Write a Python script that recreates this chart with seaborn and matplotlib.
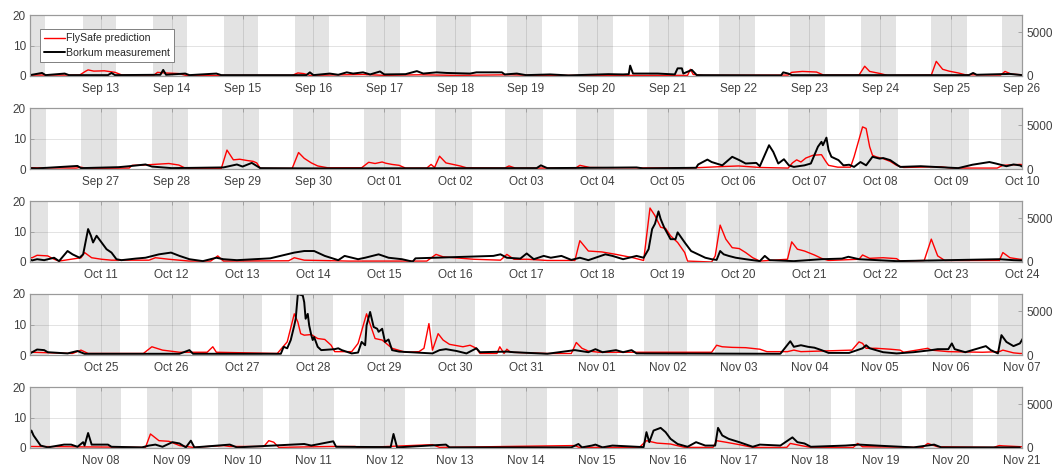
import numpy as np
import pandas as pd
import matplotlib
matplotlib.use('Agg')
import matplotlib.pyplot as plt
import matplotlib.dates as mdates
import seaborn as sns

sns.set_style('white')
plt.rcParams['font.family'] = ['Liberation Sans', 'DejaVu Sans']

start = pd.Timestamp('2016-09-12')
days_per_row = 14
n_rows = 5
lat, lon = 53.59, 6.67  # Borkum

# FlySafe prediction (left axis) : (days since Sep 12 00:00 UTC, value)
flysafe_1 = [(0.00, 0.3), (0.70, 0.3), (0.78, 1.5), (0.82, 2.0), (0.90, 1.6), (1.05, 1.7), (1.20, 1.2), (1.30, 0.3),
             (1.75, 0.3), (1.80, 1.2), (1.90, 1.0), (2.10, 0.8), (2.20, 0.2), (3.70, 0.2), (3.78, 1.0), (3.86, 0.8),
             (3.95, 0.2), (4.70, 0.5), (5.00, 0.2), (5.50, 0.4), (6.00, 0.2), (6.80, 0.4), (7.10, 0.2), (9.28, 0.2),
             (9.32, 2.2), (9.36, 0.5), (9.50, 0.2), (10.70, 0.3), (10.75, 1.2), (10.90, 1.5), (11.10, 1.3), (11.20, 0.3),
             (11.70, 0.3), (11.78, 3.2), (11.85, 1.5), (12.00, 0.8), (12.10, 0.2), (12.72, 0.3), (12.79, 4.8), (12.88, 2.2),
             (12.97, 1.6), (13.10, 1.0), (13.20, 0.4), (13.70, 0.3), (13.76, 1.5), (13.85, 0.6)]
flysafe_2 = [(14.00, 0.4), (14.65, 0.3), (14.72, 0.6), (14.80, 0.2), (15.40, 0.3), (15.44, 1.2), (15.60, 1.3), (15.75, 1.5),
             (15.96, 1.8), (16.10, 1.3), (16.20, 0.2), (16.70, 0.2), (16.78, 6.2), (16.87, 3.0), (16.96, 3.2), (17.06, 2.8),
             (17.15, 2.5), (17.20, 2.0), (17.25, 0.2), (17.70, 0.2), (17.79, 5.4), (17.87, 3.5), (17.97, 2.0), (18.06, 1.0),
             (18.20, 0.4), (18.68, 0.4), (18.78, 2.2), (18.87, 1.8), (18.97, 2.3), (19.02, 1.9), (19.11, 1.5), (19.21, 1.2),
             (19.30, 0.3), (19.60, 0.3), (19.66, 1.5), (19.71, 0.5), (19.78, 4.2), (19.87, 2.0), (19.97, 1.5), (20.07, 1.0),
             (20.16, 0.4), (20.70, 0.3), (20.76, 1.0), (20.85, 0.3), (21.70, 0.3), (21.76, 1.2), (21.90, 0.5), (22.22, 0.4),
             (23.30, 0.3), (23.77, 0.8), (24.00, 1.0), (24.30, 0.5), (24.70, 0.3), (24.76, 2.0), (24.82, 3.0), (24.88, 2.3),
             (24.95, 3.6), (25.05, 4.5), (25.17, 4.7), (25.23, 2.5), (25.27, 1.2), (25.40, 0.6), (25.58, 0.6), (25.63, 4.0),
             (25.75, 13.8), (25.80, 13.3), (25.85, 7.3), (25.89, 4.5), (25.94, 4.0), (26.04, 3.4), (26.14, 2.5), (26.23, 1.2),
             (26.33, 0.5), (26.72, 0.7), (26.86, 0.7), (27.00, 0.3), (27.65, 0.3), (27.73, 1.2), (27.97, 1.5)]
flysafe_3 = [(28.03, 1.4), (28.10, 2.2), (28.25, 2.0), (28.34, 0.9), (28.41, 0.3), (28.72, 1.4), (28.77, 3.1), (28.87, 1.4),
             (29.01, 0.9), (29.15, 0.6), (29.68, 0.6), (29.77, 1.4), (29.96, 0.9), (30.25, 0.3), (30.55, 0.3), (30.65, 2.0),
             (30.73, 0.3), (31.65, 0.4), (31.73, 1.4), (31.87, 0.6), (32.50, 0.3), (33.60, 0.3), (33.73, 2.5), (33.83, 1.7),
             (34.26, 0.9), (34.64, 0.6), (34.73, 2.5), (34.83, 0.9), (35.02, 0.9), (35.30, 0.5), (35.69, 0.5), (35.76, 7.0),
             (35.88, 3.6), (36.07, 3.3), (36.27, 2.5), (36.51, 1.4), (36.66, 0.5), (36.75, 17.7), (36.82, 15.2), (36.90, 11.4),
             (36.97, 11.0), (37.04, 8.6), (37.14, 6.4), (37.24, 3.1), (37.28, 0.3), (37.62, 0.0), (37.67, 2.0), (37.74, 12.1),
             (37.82, 7.5), (37.91, 4.7), (38.01, 4.4), (38.10, 3.1), (38.20, 1.4), (38.30, 0.3), (38.69, 0.9), (38.75, 6.6),
             (38.83, 4.2), (38.93, 3.6), (39.07, 2.3), (39.17, 1.2), (39.27, 0.5), (39.70, 0.9), (39.75, 2.3), (39.85, 1.2),
             (40.04, 1.4), (40.23, 1.1), (40.28, 0.3), (40.62, 0.5), (40.72, 7.5), (40.81, 2.0), (40.91, 0.5), (41.68, 0.5),
             (41.73, 3.1), (41.83, 1.4), (41.97, 0.9)]
flysafe_4 = [(42.03, 0.9), (42.60, 0.5), (42.72, 1.6), (42.82, 0.5), (43.60, 0.5), (43.72, 2.7), (43.87, 1.6), (44.11, 0.9),
             (44.50, 0.9), (44.58, 2.7), (44.63, 0.9), (45.49, 0.5), (45.63, 4.3), (45.73, 13.5), (45.78, 10.8), (45.82, 7.0),
             (45.87, 6.5), (45.97, 6.7), (46.06, 5.4), (46.16, 5.1), (46.25, 3.2), (46.30, 1.1), (46.54, 1.1), (46.63, 3.8),
             (46.75, 13.5), (46.83, 8.1), (46.87, 5.4), (46.97, 4.9), (47.11, 2.2), (47.30, 0.9), (47.49, 1.1), (47.56, 2.2),
             (47.63, 10.3), (47.68, 1.6), (47.76, 7.0), (47.83, 4.9), (47.92, 3.5), (48.11, 2.7), (48.21, 3.2), (48.30, 2.2),
             (48.35, 0.5), (48.59, 0.5), (48.63, 2.7), (48.69, 0.5), (48.73, 1.9), (48.78, 0.9), (49.30, 0.5), (49.64, 0.5),
             (49.71, 4.1), (49.79, 2.2), (49.88, 1.3), (50.03, 0.9), (51.62, 0.9), (51.69, 3.2), (51.77, 2.7), (51.91, 2.5),
             (52.10, 2.4), (52.30, 1.9), (52.40, 1.1), (52.69, 1.1), (52.78, 1.6), (52.88, 1.1), (53.60, 1.6), (53.70, 4.3),
             (53.75, 3.8), (53.80, 2.2), (53.94, 2.2), (54.14, 1.9), (54.28, 1.6), (54.33, 0.9), (54.67, 2.2), (54.72, 1.6),
             (54.96, 1.1), (55.44, 0.9), (55.68, 1.1), (55.73, 1.6), (55.88, 0.7), (55.97, 0.5)]
flysafe_5 = [(56.02, 0.5), (57.63, 0.2), (57.70, 4.6), (57.82, 2.4), (57.96, 2.2), (58.11, 0.8), (58.30, 0.2), (58.73, 0.8),
             (58.82, 0.5), (59.30, 0.5), (59.37, 2.4), (59.44, 1.9), (59.51, 0.2), (60.25, 0.5), (60.59, 0.5), (60.63, 0.1),
             (61.68, 1.1), (61.78, 0.2), (63.69, 0.8), (63.75, 0.2), (64.60, 0.2), (64.70, 2.4), (64.85, 1.6), (65.04, 1.3),
             (65.24, 0.2), (65.64, 0.2), (65.69, 2.4), (65.82, 1.9), (66.01, 1.1), (66.20, 0.2), (66.68, 0.2), (66.73, 1.5),
             (66.88, 0.8), (67.02, 0.2), (67.62, 0.2), (67.68, 1.5), (67.75, 0.4), (68.60, 0.2), (68.67, 1.5), (68.81, 0.4),
             (69.60, 0.2), (69.68, 0.8), (69.73, 0.7), (70.00, 0.4)]

# Borkum measurement (right axis, counts) : (days since Sep 12 00:00 UTC, value)
borkum_1 = [(0.00, 100), (0.17, 350), (0.22, 100), (0.49, 280), (0.55, 100), (1.10, 100), (1.15, 350), (1.20, 100),
            (1.84, 140), (1.88, 700), (1.92, 140), (2.19, 280), (2.25, 100), (2.63, 280), (2.70, 100), (3.90, 100),
            (3.95, 420), (4.00, 100), (4.23, 280), (4.35, 140), (4.47, 420), (4.56, 280), (4.70, 420), (4.80, 180),
            (4.94, 520), (5.00, 180), (5.30, 210), (5.46, 560), (5.55, 280), (5.74, 420), (5.88, 350), (6.21, 280),
            (6.30, 420), (6.66, 420), (6.70, 180), (6.87, 280), (7.00, 100), (7.34, 180), (7.60, 70), (8.16, 210),
            (8.37, 180), (8.45, 210), (8.47, 1190), (8.51, 280), (8.86, 280), (9.10, 180), (9.14, 880), (9.20, 880),
            (9.22, 280), (9.34, 700), (9.41, 100), (10.60, 70), (10.63, 420), (10.70, 280), (10.75, 100), (13.25, 100),
            (13.31, 350), (13.36, 140), (13.83, 240), (14.00, 100)]
borkum_2 = [(14.10, 70), (14.67, 350), (14.72, 100), (15.25, 210), (15.40, 320), (15.63, 520), (15.72, 280), (16.00, 100),
            (16.73, 180), (16.92, 520), (17.00, 280), (17.13, 700), (17.25, 100), (18.00, 70), (21.15, 100), (21.21, 420),
            (21.30, 100), (22.56, 180), (22.65, 70), (23.40, 140), (23.43, 520), (23.56, 1080), (23.62, 800), (23.77, 420),
            (23.91, 1400), (24.01, 1020), (24.10, 630), (24.25, 700), (24.30, 320), (24.43, 2730), (24.49, 1960),
            (24.56, 630), (24.64, 1120), (24.71, 420), (24.78, 240), (24.93, 420), (25.02, 630), (25.12, 2560),
            (25.17, 3120), (25.19, 2730), (25.24, 3600), (25.27, 2170), (25.31, 1400), (25.41, 1020), (25.48, 420),
            (25.56, 490), (25.63, 240), (25.72, 800), (25.80, 420), (25.89, 1400), (25.99, 1190), (26.04, 1260),
            (26.14, 1020), (26.21, 630), (26.28, 240), (26.57, 320), (27.10, 100), (27.30, 490), (27.54, 800),
            (27.63, 630), (27.78, 320), (27.88, 520), (27.97, 420)]
borkum_3 = [(28.03, 180), (28.10, 320), (28.20, 210), (28.34, 490), (28.41, 100), (28.53, 1260), (28.60, 880), (28.70, 490),
            (28.75, 880), (28.82, 3780), (28.86, 3010), (28.89, 2240), (28.94, 3010), (29.01, 2240), (29.08, 1470),
            (29.15, 1080), (29.22, 320), (29.29, 210), (29.49, 390), (29.63, 490), (29.82, 880), (29.99, 1080),
            (30.11, 700), (30.25, 320), (30.44, 100), (30.63, 490), (30.73, 320), (30.92, 210), (31.39, 420), (31.63, 880),
            (31.73, 1080), (31.87, 1260), (32.01, 1260), (32.16, 700), (32.35, 210), (32.44, 700), (32.63, 320),
            (32.73, 490), (32.92, 880), (33.06, 490), (33.25, 320), (33.40, 40), (33.44, 420), (34.54, 700), (34.64, 880),
            (34.73, 490), (34.92, 390), (35.01, 980), (35.11, 320), (35.25, 700), (35.35, 490), (35.50, 700), (35.64, 240),
            (35.76, 490), (35.88, 210), (36.12, 880), (36.22, 700), (36.37, 320), (36.56, 700), (36.66, 490), (36.73, 1470),
            (36.78, 3780), (36.82, 4380), (36.87, 5810), (36.90, 4940), (36.95, 3960), (37.04, 2620), (37.11, 2620),
            (37.14, 3400), (37.24, 2240), (37.33, 1260), (37.43, 880), (37.53, 490), (37.62, 320), (37.69, 240),
            (37.74, 1260), (37.79, 880), (37.86, 700), (37.96, 490), (38.10, 320), (38.30, 100), (38.37, 700),
            (38.44, 210), (38.78, 100), (39.17, 320), (39.46, 390), (39.55, 600), (39.70, 320), (40.23, 100),
            (41.15, 240), (41.68, 320), (41.88, 210), (42.00, 180)]
borkum_4 = [(42.10, 630), (42.20, 560), (42.25, 320), (42.53, 180), (42.67, 460), (42.77, 140), (44.11, 140), (44.25, 560),
            (44.30, 140), (45.54, 140), (45.58, 940), (45.63, 770), (45.68, 1720), (45.73, 3400), (45.75, 4160),
            (45.78, 7000), (45.85, 6820), (45.87, 6060), (45.89, 4160), (45.92, 4720), (45.94, 3400), (45.97, 2280),
            (45.99, 1720), (46.01, 2060), (46.06, 940), (46.11, 560), (46.30, 670), (46.35, 770), (46.40, 560),
            (46.54, 180), (46.63, 280), (46.68, 1500), (46.73, 1120), (46.75, 3400), (46.80, 4940), (46.85, 3220),
            (46.90, 3010), (46.92, 2660), (46.97, 3010), (47.01, 1500), (47.06, 1780), (47.11, 560), (47.21, 390),
            (47.68, 180), (47.78, 560), (47.87, 670), (48.02, 460), (48.16, 180), (48.30, 770), (48.35, 320),
            (48.73, 390), (48.83, 320), (49.30, 140), (49.69, 560), (49.88, 320), (49.98, 670), (50.08, 320),
            (50.27, 560), (50.37, 320), (50.49, 560), (50.56, 180), (52.59, 140), (52.73, 1580), (52.78, 940),
            (52.88, 1120), (52.98, 940), (53.07, 840), (53.17, 560), (53.27, 240), (53.56, 240), (53.75, 770),
            (53.80, 1120), (53.85, 770), (53.94, 560), (54.04, 320), (54.23, 180), (54.47, 320), (54.72, 560),
            (54.81, 670), (54.96, 670), (55.01, 1330), (55.05, 670), (55.20, 320), (55.39, 770), (55.49, 1020),
            (55.56, 560), (55.66, 180), (55.71, 2280), (55.78, 1500), (55.88, 1020), (55.97, 1330)]
borkum_5 = [(56.02, 2000), (56.05, 1440), (56.15, 280), (56.25, 70), (56.48, 390), (56.58, 390), (56.67, 140), (56.75, 670),
            (56.77, 280), (56.82, 1720), (56.87, 390), (57.01, 390), (57.10, 390), (57.15, 140), (57.58, 70), (57.68, 280),
            (57.77, 390), (57.87, 140), (58.01, 670), (58.11, 520), (58.20, 70), (58.27, 840), (58.32, 70), (58.82, 390),
            (58.92, 70), (59.87, 460), (59.97, 280), (60.28, 770), (60.32, 140), (61.09, 100), (61.13, 1610), (61.18, 70),
            (61.87, 390), (61.92, 70), (63.64, 70), (63.74, 460), (63.79, 70), (63.93, 280), (63.98, 390), (64.08, 70),
            (64.22, 280), (64.66, 100), (64.70, 1820), (64.74, 670), (64.80, 2000), (64.90, 2310), (64.97, 1820),
            (65.04, 1050), (65.14, 460), (65.28, 140), (65.40, 670), (65.53, 280), (65.67, 280), (65.71, 2310),
            (65.77, 1440), (65.86, 1050), (66.01, 670), (66.20, 140), (66.30, 390), (66.59, 280), (66.76, 1220),
            (66.83, 670), (66.93, 520), (67.02, 140), (67.51, 280), (67.70, 390), (68.04, 240), (68.47, 70), (68.76, 390),
            (68.86, 70), (69.97, 70)]

pred = pd.DataFrame(flysafe_1 + flysafe_2 + flysafe_3 + flysafe_4 + flysafe_5, columns=['day', 'value'])
meas = pd.DataFrame(borkum_1 + borkum_2 + borkum_3 + borkum_4 + borkum_5, columns=['day', 'value'])
for df in (pred, meas):
    df['time'] = start + pd.to_timedelta(df['day'], unit='D')


def sun_times(date):
    # approximate sunrise / sunset in UTC hours at Borkum
    doy = date.dayofyear
    decl = np.radians(-23.44) * np.cos(2 * np.pi / 365 * (doy + 10))
    b = 2 * np.pi * (doy - 81) / 364
    eot = 9.87 * np.sin(2 * b) - 7.53 * np.cos(b) - 1.5 * np.sin(b)
    noon = 12 - lon / 15 - eot / 60
    phi = np.radians(lat)
    cosw = (np.sin(np.radians(-0.833)) - np.sin(phi) * np.sin(decl)) / (np.cos(phi) * np.cos(decl))
    half = np.degrees(np.arccos(cosw)) / 15
    return noon - half, noon + half


nights = []
for k in range(-1, n_rows * days_per_row + 1):
    d = start + pd.Timedelta(days=k)
    sunset = sun_times(d)[1]
    sunrise = sun_times(d + pd.Timedelta(days=1))[0]
    nights.append((d + pd.Timedelta(hours=sunset), d + pd.Timedelta(days=1) + pd.Timedelta(hours=sunrise)))

W, H = 1057, 467
fig = plt.figure(figsize=(W / 100, H / 100), dpi=100)
edge = '#9a9a9a'
txt = '#404040'

for i in range(n_rows):
    t0 = start + pd.Timedelta(days=i * days_per_row)
    t1 = t0 + pd.Timedelta(days=days_per_row)
    top = 15 + 93 * i
    ax = fig.add_axes([30 / W, 1 - (top + 61) / H, 992 / W, 61 / H])

    sns.lineplot(data=pred, x='time', y='value', ax=ax, color='#ff0000', lw=1.0,
                 estimator=None, sort=False, label='FlySafe prediction', legend=False)
    for a, b in nights:
        if b > t0 and a < t1:
            ax.axvspan(mdates.date2num(a), mdates.date2num(b), color='#e3e3e3', lw=0, zorder=0)

    ax.set_xlim(mdates.date2num(t0), mdates.date2num(t1))
    ax.set_ylim(0, 20)
    ax.set_yticks([0, 10, 20])
    ticks = [t0 + pd.Timedelta(days=k) for k in range(1, days_per_row + 1)]
    ax.set_xticks(mdates.date2num(ticks))
    ax.xaxis.set_major_formatter(mdates.DateFormatter('%b %d'))
    ax.set_xlabel('')
    ax.set_ylabel('')
    ax.set_axisbelow('line')
    ax.grid(True, color='#262626', alpha=0.15, lw=0.6)
    ax.tick_params(axis='both', direction='in', length=3, width=0.6, color=edge,
                   labelcolor=txt, labelsize=8.5, top=True, right=False)
    ax.tick_params(axis='x', pad=5)
    ax.tick_params(axis='y', pad=3)

    ax2 = ax.twinx()
    sns.lineplot(data=meas, x='time', y='value', ax=ax2, color='black', lw=1.4,
                 estimator=None, sort=False, label='Borkum measurement', legend=False)
    ax2.set_xlim(mdates.date2num(t0), mdates.date2num(t1))
    ax2.set_ylim(0, 7000)
    ax2.set_yticks([0, 5000])
    ax2.set_ylabel('')
    ax2.tick_params(axis='y', direction='in', length=3, width=0.6, color=edge,
                    labelcolor=txt, labelsize=8.5, pad=3)
    for a_ in (ax, ax2):
        for s in a_.spines.values():
            s.set_color(edge)
            s.set_linewidth(0.8)

    if i == 0:
        leg = ax2.legend(handles=[ax.lines[0], ax2.lines[0]],
                         labels=['FlySafe prediction', 'Borkum measurement'],
                         loc='upper left', bbox_to_anchor=(0.01, 0.77), borderaxespad=0,
                         fontsize=7.6, handlelength=2.0, handletextpad=0.1, labelspacing=0.45,
                         borderpad=0.4, fancybox=False, framealpha=1, edgecolor='#808080')
        leg.get_frame().set_linewidth(0.7)

fig.savefig('out.png', dpi=100)
